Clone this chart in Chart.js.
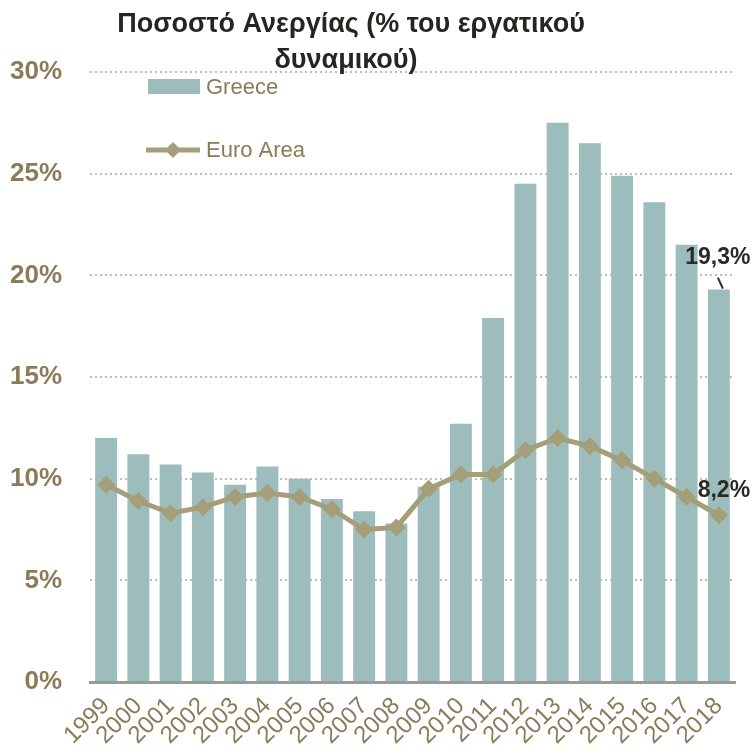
<!DOCTYPE html>
<html>
<head>
<meta charset="utf-8">
<script src="https://cdn.jsdelivr.net/npm/chart.js@4/dist/chart.umd.min.js"></script>
<style>
  body { margin: 0; background: #fff; }
  #wrap { width: 754px; height: 754px; position: relative; }
</style>
</head>
<body>
<div id="wrap"><canvas id="uChart"></canvas></div>
<script>
// Unemployment rate, % of labour force
const years = ['1999','2000','2001','2002','2003','2004','2005','2006','2007','2008',
  '2009','2010','2011','2012','2013','2014','2015','2016','2017','2018'];
const greece = [12.0, 11.2, 10.7, 10.3, 9.7, 10.6, 10.0, 9.0, 8.4, 7.8,
  9.6, 12.7, 17.9, 24.5, 27.5, 26.5, 24.9, 23.6, 21.5, 19.3];
const euroArea = [9.7, 8.9, 8.3, 8.6, 9.1, 9.3, 9.1, 8.5, 7.5, 7.6,
  9.5, 10.2, 10.2, 11.4, 12.0, 11.6, 10.9, 10.0, 9.1, 8.2];
const titleLines = ['Ποσοστό Ανεργίας (% του εργατικού', 'δυναμικού)'];

const BAR = '#9DBDBC';
const LINE = '#A49E79';
const AXIS_TXT = '#8B7B5A';
const FONT = '"Liberation Sans", Arial, sans-serif';

// title, legend and end labels drawn on top of the plot
const overlay = {
  id: 'overlay',
  afterDatasetsDraw(chart) {
    const ctx = chart.ctx;
    ctx.save();

    ctx.fillStyle = '#26251F';
    ctx.font = 'bold 27px ' + FONT;
    ctx.textAlign = 'center';
    ctx.textBaseline = 'middle';
    ctx.fillText(titleLines[0], 351, 25);
    ctx.fillText(titleLines[1], 346, 61);

    // legend
    ctx.font = '22px ' + FONT;
    ctx.textAlign = 'left';
    ctx.fillStyle = BAR;
    ctx.fillRect(148, 79, 52, 15);
    ctx.fillStyle = AXIS_TXT;
    ctx.fillText('Greece', 206, 88);

    ctx.strokeStyle = LINE;
    ctx.lineWidth = 5;
    ctx.beginPath();
    ctx.moveTo(146, 150);
    ctx.lineTo(200, 150);
    ctx.stroke();
    ctx.fillStyle = LINE;
    ctx.beginPath();
    ctx.moveTo(173, 142); ctx.lineTo(181, 150); ctx.lineTo(173, 158); ctx.lineTo(165, 150);
    ctx.closePath();
    ctx.fill();
    ctx.fillStyle = AXIS_TXT;
    ctx.fillText('Euro Area', 206, 151);

    // last-value labels
    const last = years.length - 1;
    const bar = chart.getDatasetMeta(0).data[last];
    const pt = chart.getDatasetMeta(1).data[last];
    ctx.fillStyle = '#2A2A26';
    ctx.font = 'bold 23px ' + FONT;
    ctx.textAlign = 'center';
    ctx.fillText(greece[last].toFixed(1).replace('.', ',') + '%', bar.x - 1, bar.y - 32);
    ctx.fillText(euroArea[last].toFixed(1).replace('.', ',') + '%', pt.x + 5, pt.y - 25);

    ctx.strokeStyle = '#2A2A26';
    ctx.lineWidth = 2;
    ctx.beginPath();
    ctx.moveTo(bar.x - 1, bar.y - 12);
    ctx.lineTo(bar.x + 4, bar.y - 1);
    ctx.stroke();

    ctx.restore();
  }
};

new Chart(document.getElementById('uChart').getContext('2d'), {
  data: {
    labels: years,
    datasets: [
      {
        type: 'bar',
        label: 'Greece',
        data: greece,
        backgroundColor: BAR,
        barPercentage: 0.68,
        categoryPercentage: 1,
        order: 2,
      },
      {
        type: 'line',
        label: 'Euro Area',
        data: euroArea,
        borderColor: LINE,
        backgroundColor: LINE,
        borderWidth: 5,
        pointStyle: 'rectRot',
        pointRadius: 9,
        pointBorderWidth: 0,
        tension: 0,
        order: 1,
      },
    ],
  },
  options: {
    responsive: true,
    maintainAspectRatio: false,
    animation: false,
    layout: { padding: { top: 72, right: 19, bottom: 0, left: 0 } },
    plugins: {
      legend: { display: false },
      tooltip: { enabled: false },
    },
    scales: {
      x: {
        grid: { display: false },
        border: { display: true, color: '#9A9A9A', width: 3 },
        ticks: {
          color: AXIS_TXT,
          font: { family: FONT, size: 24 },
          autoSkip: false,
          minRotation: 45,
          maxRotation: 45,
          padding: 2,
        },
        afterFit(s) { s.height = 72; },
      },
      y: {
        min: 0,
        max: 30,
        border: { display: false, dash: [2, 3] },
        grid: {
          color: c => (c.tick.value === 0 ? 'rgba(0,0,0,0)' : '#BDBDBD'),
          lineWidth: 2,
          drawTicks: false,
        },
        ticks: {
          stepSize: 5,
          color: AXIS_TXT,
          font: { family: FONT, size: 26, weight: 'bold' },
          padding: 28,
          callback: v => v + '%',
        },
        afterFit(s) { s.width = 90; },
      },
    },
  },
  plugins: [overlay],
});
</script>
</body>
</html>
